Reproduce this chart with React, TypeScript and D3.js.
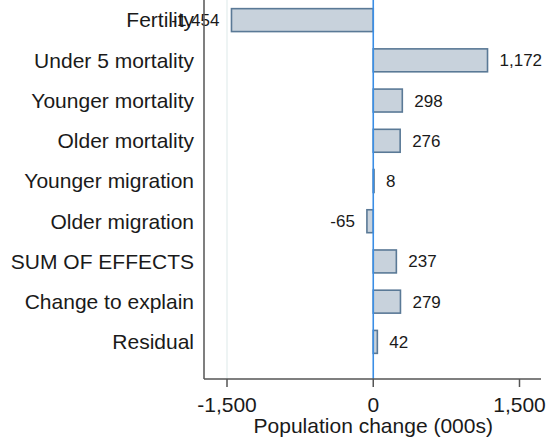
import React from "react";
import * as d3 from "d3";

const categories = [
  "Fertility",
  "Under 5 mortality",
  "Younger mortality",
  "Older mortality",
  "Younger migration",
  "Older migration",
  "SUM OF EFFECTS",
  "Change to explain",
  "Residual",
];
const values = [-1454, 1172, 298, 276, 8, -65, 237, 279, 42];
const xTicks = [-1500, 0, 1500];
const xTitle = "Population change (000s)";

const W = 547;
const H = 440;
const FONT = "'Liberation Sans', Arial, sans-serif";

export default function App() {
  const x = d3.scaleLinear().domain([-1500, 1500]).range([227, 519.5]);
  const y = d3
    .scaleBand<string>()
    .domain(categories)
    .range([0, 362])
    .paddingInner(0.43)
    .paddingOuter(0.215);
  const axisLeft = 204;
  const axisRight = 541;
  const axisY = 379;
  const fmt = (v: number) => d3.format(",")(v).replace("\u2212", "-");

  return (
    <svg
      width={W}
      height={H}
      style={{ position: "absolute", left: 0, top: 0, background: "#fff" }}
      fontFamily={FONT}
    >
      {/* faint grid line at -1500 */}
      <line x1={x(-1500)} x2={x(-1500)} y1={0} y2={axisY} stroke="#e8f0f0" strokeWidth={1.5} />
      {/* bars */}
      {categories.map((c, i) => {
        const v = values[i];
        const x0 = x(Math.min(0, v));
        const x1 = x(Math.max(0, v));
        const yy = y(c)!;
        const bw = y.bandwidth();
        const cy = yy + bw / 2;
        return (
          <g key={c}>
            <rect
              x={x0}
              y={yy}
              width={Math.max(x1 - x0, 0.5)}
              height={bw}
              fill="#c8d2dc"
              stroke="#5a7996"
              strokeWidth={1.6}
            />
            <text
              x={v >= 0 ? x1 + 12 : x0 - 12}
              y={cy}
              dy="0.35em"
              textAnchor={v >= 0 ? "start" : "end"}
              fontSize={17}
              fill="#1a1a1a"
            >
              {fmt(v)}
            </text>
            <text
              x={194}
              y={cy}
              dy="0.35em"
              textAnchor="end"
              fontSize={21}
              fill="#1a1a1a"
            >
              {c}
            </text>
          </g>
        );
      })}
      {/* zero line */}
      <line x1={x(0)} x2={x(0)} y1={0} y2={axisY} stroke="#3b8ee6" strokeWidth={1.6} />
      {/* axes */}
      <line x1={axisLeft} x2={axisLeft} y1={0} y2={axisY} stroke="#555" strokeWidth={1.5} />
      <line x1={axisLeft} x2={axisRight} y1={axisY} y2={axisY} stroke="#555" strokeWidth={1.5} />
      {xTicks.map((t) => (
        <g key={t}>
          <line x1={x(t)} x2={x(t)} y1={axisY} y2={axisY + 8} stroke="#555" strokeWidth={1.5} />
          <text x={x(t)} y={412} textAnchor="middle" fontSize={21} fill="#1a1a1a">
            {fmt(t)}
          </text>
        </g>
      ))}
      <text x={x(0)} y={433} textAnchor="middle" fontSize={21} fill="#1a1a1a">
        {xTitle}
      </text>
    </svg>
  );
}
